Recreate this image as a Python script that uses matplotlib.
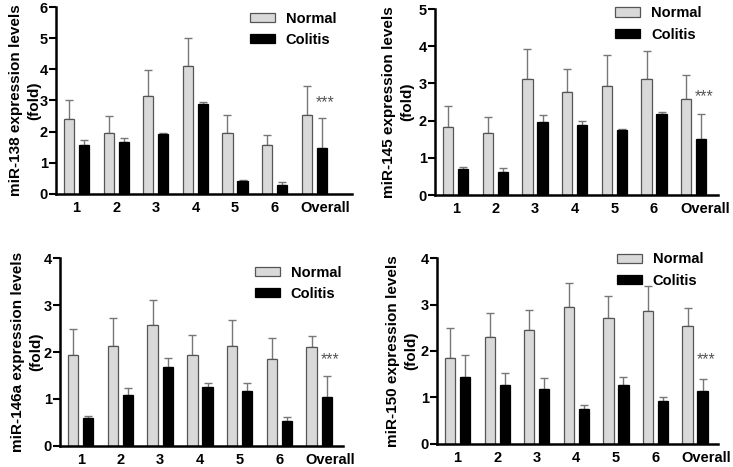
import numpy as np
import matplotlib.pyplot as plt

plt.rcParams['font.family'] = ['Liberation Sans', 'DejaVu Sans']
plt.rcParams['font.weight'] = 'bold'

groups = ['1', '2', '3', '4', '5', '6', 'Overall']

# miR-138
normal_138 = [2.42, 1.97, 3.15, 4.12, 1.95, 1.57, 2.53]
normal_138_err = [0.61, 0.53, 0.82, 0.89, 0.60, 0.31, 0.94]
colitis_138 = [1.57, 1.68, 1.94, 2.88, 0.41, 0.28, 1.46]
colitis_138_err = [0.17, 0.11, 0.03, 0.06, 0.05, 0.11, 0.98]

# miR-145
normal_145 = [1.84, 1.66, 3.12, 2.77, 2.94, 3.12, 2.57]
normal_145_err = [0.56, 0.45, 0.80, 0.63, 0.83, 0.76, 0.66]
colitis_145 = [0.70, 0.62, 1.97, 1.88, 1.75, 2.17, 1.51]
colitis_145_err = [0.05, 0.11, 0.18, 0.11, 0.02, 0.07, 0.68]

# miR-146a
normal_146a = [1.94, 2.12, 2.58, 1.94, 2.12, 1.86, 2.10]
normal_146a_err = [0.56, 0.60, 0.53, 0.43, 0.57, 0.44, 0.25]
colitis_146a = [0.59, 1.08, 1.68, 1.25, 1.16, 0.53, 1.05]
colitis_146a_err = [0.04, 0.15, 0.20, 0.10, 0.17, 0.08, 0.43]

# miR-150
normal_150 = [1.84, 2.31, 2.46, 2.94, 2.72, 2.87, 2.53]
normal_150_err = [0.66, 0.51, 0.43, 0.52, 0.47, 0.53, 0.40]
colitis_150 = [1.45, 1.26, 1.18, 0.75, 1.27, 0.93, 1.13]
colitis_150_err = [0.46, 0.27, 0.24, 0.08, 0.16, 0.07, 0.26]

# name, data..., ymax, star height, axes rect, xmax, legend pos, ylabel x (px)
panels = [
    ('miR-138', normal_138, normal_138_err, colitis_138, colitis_138_err, 6, 2.92,
     [0.0764, 0.5846, 0.4036, 0.4004], 6.95, (0.655, 0.975), 25),
    ('miR-145', normal_145, normal_145_err, colitis_145, colitis_145_err, 5, 2.64,
     [0.5935, 0.5824, 0.3865, 0.3983], 6.62, (0.636, 1.015), 398),
    ('miR-146a', normal_146a, normal_146a_err, colitis_146a, colitis_146a_err, 4, 1.84,
     [0.0819, 0.0450, 0.3861, 0.4025], 6.6, (0.689, 0.96), 27),
    ('miR-150', normal_150, normal_150_err, colitis_150, colitis_150_err, 4, 1.82,
     [0.5962, 0.0493, 0.3834, 0.3982], 6.58, (0.64, 1.03), 402),
]

fig = plt.figure(figsize=(7.33, 4.67), dpi=100)

x = np.arange(len(groups))
w = 0.26
off = 0.19

for name, nv, ne, cv, ce, ymax, star_y, rect, xmax, leg_pos, lab_x in panels:
    ax = fig.add_axes(rect)
    ax.bar(x - off, nv, w, color='#d9d9d9', edgecolor='#555555', linewidth=0.9,
           label='Normal', zorder=2)
    ax.bar(x + off, cv, w, color='black', edgecolor='black', linewidth=0.9,
           label='Colitis', zorder=2)
    # upper error bars only
    ax.errorbar(x - off, nv, yerr=[np.zeros(len(ne)), ne], fmt='none',
                ecolor='#777777', elinewidth=1, capsize=3, capthick=1, zorder=1)
    ax.errorbar(x + off, cv, yerr=[np.zeros(len(ce)), ce], fmt='none',
                ecolor='#777777', elinewidth=1, capsize=3, capthick=1, zorder=1)

    ax.text(6.27, star_y, '***', ha='center', va='center', fontsize=11.5,
            color='#555555', fontweight='normal')

    ax.set_xlim(-0.52, xmax)
    ax.set_ylim(0, ymax)
    ax.set_yticks(range(ymax + 1))
    ticks = list(x.astype(float))
    ticks[-1] = 6.28
    ax.set_xticks(ticks)
    ax.set_xticklabels(groups)
    ax.tick_params(axis='x', length=0, pad=5, labelsize=10.5)
    ax.tick_params(axis='y', length=5, width=1.5, pad=1, labelsize=10.5)
    for lab in ax.get_xticklabels() + ax.get_yticklabels():
        lab.set_fontweight('bold')

    for s in ['top', 'right']:
        ax.spines[s].set_visible(False)
    for s in ['left', 'bottom']:
        ax.spines[s].set_linewidth(1.8)

    fig.text(lab_x / 733, rect[1] + rect[3] / 2, name + ' expression levels\n(fold)',
             rotation=90, ha='center', va='center', fontsize=11,
             fontweight='bold', linespacing=1.35)

    ax.legend(loc='upper left', bbox_to_anchor=leg_pos, frameon=False,
              handlelength=1.7, handleheight=0.6,
              handletextpad=0.75, labelspacing=0.5, borderpad=0,
              borderaxespad=0, prop={'weight': 'bold', 'size': 10.5})

fig.savefig('out.png', dpi=100)
